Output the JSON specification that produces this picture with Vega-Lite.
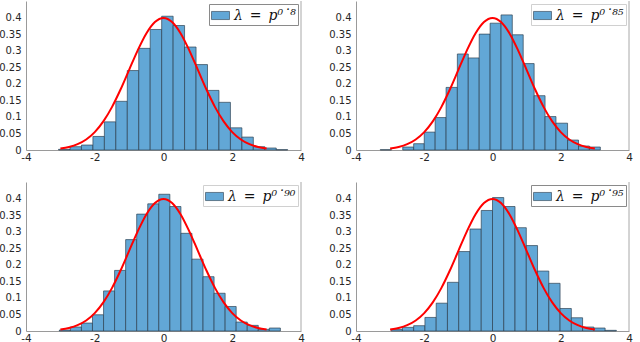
{
  "$schema": "https://vega.github.io/schema/vega-lite/v6.json",
  "padding": {"left": -2, "top": 0, "right": 0, "bottom": 0},
  "bounds": "flush",
  "columns": 2,
  "spacing": {"column": 55, "row": 32},
  "datasets": {
    "p1": [
      {"x0": -3.053, "x1": -2.72, "density": 0.002},
      {"x0": -2.72, "x1": -2.387, "density": 0.01},
      {"x0": -2.387, "x1": -2.053, "density": 0.015},
      {"x0": -2.053, "x1": -1.72, "density": 0.041},
      {"x0": -1.72, "x1": -1.387, "density": 0.085},
      {"x0": -1.387, "x1": -1.053, "density": 0.147},
      {"x0": -1.053, "x1": -0.72, "density": 0.24},
      {"x0": -0.72, "x1": -0.387, "density": 0.307},
      {"x0": -0.387, "x1": -0.053, "density": 0.364},
      {"x0": -0.053, "x1": 0.28, "density": 0.404},
      {"x0": 0.28, "x1": 0.613, "density": 0.376},
      {"x0": 0.613, "x1": 0.947, "density": 0.311},
      {"x0": 0.947, "x1": 1.28, "density": 0.258},
      {"x0": 1.28, "x1": 1.613, "density": 0.18},
      {"x0": 1.613, "x1": 1.947, "density": 0.144},
      {"x0": 1.947, "x1": 2.28, "density": 0.067},
      {"x0": 2.28, "x1": 2.613, "density": 0.039},
      {"x0": 2.613, "x1": 2.947, "density": 0.01},
      {"x0": 2.947, "x1": 3.28, "density": 0.006},
      {"x0": 3.28, "x1": 3.613, "density": 0.001}
    ],
    "p2": [
      {"x0": -3.29, "x1": -2.96, "density": 0.001},
      {"x0": -2.63, "x1": -2.31, "density": 0.009},
      {"x0": -2.31, "x1": -2.0, "density": 0.019},
      {"x0": -2.0, "x1": -1.68, "density": 0.054},
      {"x0": -1.68, "x1": -1.36, "density": 0.098},
      {"x0": -1.36, "x1": -1.03, "density": 0.189},
      {"x0": -1.03, "x1": -0.71, "density": 0.29},
      {"x0": -0.71, "x1": -0.39, "density": 0.278},
      {"x0": -0.39, "x1": -0.07, "density": 0.35},
      {"x0": -0.07, "x1": 0.25, "density": 0.383},
      {"x0": 0.25, "x1": 0.58, "density": 0.408},
      {"x0": 0.58, "x1": 0.9, "density": 0.348},
      {"x0": 0.9, "x1": 1.22, "density": 0.261},
      {"x0": 1.22, "x1": 1.54, "density": 0.164},
      {"x0": 1.54, "x1": 1.86, "density": 0.101},
      {"x0": 1.86, "x1": 2.2, "density": 0.081},
      {"x0": 2.2, "x1": 2.52, "density": 0.03},
      {"x0": 2.52, "x1": 2.84, "density": 0.012},
      {"x0": 2.84, "x1": 3.16, "density": 0.009}
    ],
    "p3": [
      {"x0": -3.03, "x1": -2.709, "density": 0.003},
      {"x0": -2.709, "x1": -2.387, "density": 0.012},
      {"x0": -2.387, "x1": -2.066, "density": 0.024},
      {"x0": -2.066, "x1": -1.744, "density": 0.049},
      {"x0": -1.744, "x1": -1.423, "density": 0.121},
      {"x0": -1.423, "x1": -1.101, "density": 0.183},
      {"x0": -1.101, "x1": -0.78, "density": 0.276},
      {"x0": -0.78, "x1": -0.458, "density": 0.353},
      {"x0": -0.458, "x1": -0.137, "density": 0.384},
      {"x0": -0.137, "x1": 0.185, "density": 0.413},
      {"x0": 0.185, "x1": 0.507, "density": 0.376},
      {"x0": 0.507, "x1": 0.828, "density": 0.295},
      {"x0": 0.828, "x1": 1.15, "density": 0.217},
      {"x0": 1.15, "x1": 1.471, "density": 0.164},
      {"x0": 1.471, "x1": 1.793, "density": 0.114},
      {"x0": 1.793, "x1": 2.114, "density": 0.074},
      {"x0": 2.114, "x1": 2.436, "density": 0.027},
      {"x0": 2.436, "x1": 2.757, "density": 0.017},
      {"x0": 2.757, "x1": 3.079, "density": 0.005},
      {"x0": 3.079, "x1": 3.4, "density": 0.009}
    ],
    "p4": [
      {"x0": -2.97, "x1": -2.64, "density": 0.005},
      {"x0": -2.64, "x1": -2.31, "density": 0.011},
      {"x0": -2.31, "x1": -1.98, "density": 0.016},
      {"x0": -1.98, "x1": -1.65, "density": 0.041},
      {"x0": -1.65, "x1": -1.32, "density": 0.084},
      {"x0": -1.32, "x1": -0.99, "density": 0.147},
      {"x0": -0.99, "x1": -0.66, "density": 0.24},
      {"x0": -0.66, "x1": -0.33, "density": 0.308},
      {"x0": -0.33, "x1": 0.0, "density": 0.364},
      {"x0": 0.0, "x1": 0.33, "density": 0.403},
      {"x0": 0.33, "x1": 0.66, "density": 0.376},
      {"x0": 0.66, "x1": 0.99, "density": 0.312},
      {"x0": 0.99, "x1": 1.32, "density": 0.258},
      {"x0": 1.32, "x1": 1.65, "density": 0.181},
      {"x0": 1.65, "x1": 1.98, "density": 0.144},
      {"x0": 1.98, "x1": 2.31, "density": 0.068},
      {"x0": 2.31, "x1": 2.64, "density": 0.04},
      {"x0": 2.64, "x1": 2.97, "density": 0.012},
      {"x0": 2.97, "x1": 3.3, "density": 0.009},
      {"x0": 3.3, "x1": 3.63, "density": 0.002}
    ],
    "curve": [
      {"x": -3.0, "y": 0.0044},
      {"x": -2.75, "y": 0.0091},
      {"x": -2.5, "y": 0.0175},
      {"x": -2.25, "y": 0.0317},
      {"x": -2.0, "y": 0.054},
      {"x": -1.75, "y": 0.0863},
      {"x": -1.5, "y": 0.1295},
      {"x": -1.25, "y": 0.1826},
      {"x": -1.0, "y": 0.242},
      {"x": -0.75, "y": 0.3011},
      {"x": -0.5, "y": 0.3521},
      {"x": -0.25, "y": 0.3867},
      {"x": 0.0, "y": 0.3989},
      {"x": 0.25, "y": 0.3867},
      {"x": 0.5, "y": 0.3521},
      {"x": 0.75, "y": 0.3011},
      {"x": 1.0, "y": 0.242},
      {"x": 1.25, "y": 0.1826},
      {"x": 1.5, "y": 0.1295},
      {"x": 1.75, "y": 0.0863},
      {"x": 2.0, "y": 0.054},
      {"x": 2.25, "y": 0.0317},
      {"x": 2.5, "y": 0.0175},
      {"x": 2.75, "y": 0.0091},
      {"x": 3.0, "y": 0.0044}
    ]
  },
  "concat": [
    {
      "width": 275, "height": 149,
      "layer": [
        {"data": {"name": "p1"},
         "mark": {"type": "rect", "stroke": "#2b3e4e", "strokeWidth": 0.8, "strokeOpacity": 0.85},
         "encoding": {
           "x": {"field": "x0", "type": "quantitative", "title": null, "scale": {"domain": [-4, 4], "nice": false, "zero": false}, "axis": {"values": [-4, -2, 0, 2, 4], "labelExpr": "datum.value < 0 ? '-' + abs(datum.value) : '' + datum.value"}},
           "x2": {"field": "x1"},
           "y": {"field": "density", "type": "quantitative", "title": null, "scale": {"domain": [0, 0.45], "nice": false}, "axis": {"values": [0, 0.05, 0.1, 0.15, 0.2, 0.25, 0.3, 0.35, 0.4], "format": "~g"}},
           "y2": {"datum": 0},
           "color": {"datum": "λ\u2002=\u2002p⁰˙⁸", "type": "nominal", "scale": {"range": ["#62a7d6"]}, "legend": {"strokeColor": "#8a8a8a"}}
         }},
        {"data": {"name": "curve"},
         "mark": {"type": "line", "color": "#ff0000", "strokeWidth": 2, "interpolate": "monotone"},
         "encoding": {
           "x": {"field": "x", "type": "quantitative", "title": null, "axis": {"values": [-4, -2, 0, 2, 4], "labelExpr": "datum.value < 0 ? '-' + abs(datum.value) : '' + datum.value"}},
           "y": {"field": "y", "type": "quantitative", "title": null, "axis": {"values": [0, 0.05, 0.1, 0.15, 0.2, 0.25, 0.3, 0.35, 0.4], "format": "~g"}}}},
        {"data": {"values": [{}]},
         "mark": {"type": "rule", "color": "#a8a8a8", "strokeWidth": 1},
         "encoding": {"x": {"datum": 4}}}
      ]
    },
    {
      "width": 273, "height": 149,
      "layer": [
        {"data": {"name": "p2"},
         "mark": {"type": "rect", "stroke": "#2b3e4e", "strokeWidth": 0.8, "strokeOpacity": 0.85},
         "encoding": {
           "x": {"field": "x0", "type": "quantitative", "title": null, "scale": {"domain": [-4, 4], "nice": false, "zero": false}, "axis": {"values": [-4, -2, 0, 2, 4], "labelExpr": "datum.value < 0 ? '-' + abs(datum.value) : '' + datum.value"}},
           "x2": {"field": "x1"},
           "y": {"field": "density", "type": "quantitative", "title": null, "scale": {"domain": [0, 0.45], "nice": false}, "axis": {"values": [0, 0.05, 0.1, 0.15, 0.2, 0.25, 0.3, 0.35, 0.4], "format": "~g"}},
           "y2": {"datum": 0},
           "color": {"datum": "λ\u2002=\u2002p⁰˙⁸⁵", "type": "nominal", "scale": {"range": ["#62a7d6"]}, "legend": {"strokeColor": "#d0d0d0"}}
         }},
        {"data": {"name": "curve"},
         "mark": {"type": "line", "color": "#ff0000", "strokeWidth": 2, "interpolate": "monotone"},
         "encoding": {
           "x": {"field": "x", "type": "quantitative", "title": null, "axis": {"values": [-4, -2, 0, 2, 4], "labelExpr": "datum.value < 0 ? '-' + abs(datum.value) : '' + datum.value"}},
           "y": {"field": "y", "type": "quantitative", "title": null, "axis": {"values": [0, 0.05, 0.1, 0.15, 0.2, 0.25, 0.3, 0.35, 0.4], "format": "~g"}}}},
        {"data": {"values": [{}]},
         "mark": {"type": "rule", "color": "#a8a8a8", "strokeWidth": 1},
         "encoding": {"x": {"datum": 4}}}
      ]
    },
    {
      "width": 275, "height": 149,
      "layer": [
        {"data": {"name": "p3"},
         "mark": {"type": "rect", "stroke": "#2b3e4e", "strokeWidth": 0.8, "strokeOpacity": 0.85},
         "encoding": {
           "x": {"field": "x0", "type": "quantitative", "title": null, "scale": {"domain": [-4, 4], "nice": false, "zero": false}, "axis": {"values": [-4, -2, 0, 2, 4], "labelExpr": "datum.value < 0 ? '-' + abs(datum.value) : '' + datum.value"}},
           "x2": {"field": "x1"},
           "y": {"field": "density", "type": "quantitative", "title": null, "scale": {"domain": [0, 0.45], "nice": false}, "axis": {"values": [0, 0.05, 0.1, 0.15, 0.2, 0.25, 0.3, 0.35, 0.4], "format": "~g"}},
           "y2": {"datum": 0},
           "color": {"datum": "λ\u2002=\u2002p⁰˙⁹⁰", "type": "nominal", "scale": {"range": ["#62a7d6"]}, "legend": {"strokeColor": "#d0d0d0"}}
         }},
        {"data": {"name": "curve"},
         "mark": {"type": "line", "color": "#ff0000", "strokeWidth": 2, "interpolate": "monotone"},
         "encoding": {
           "x": {"field": "x", "type": "quantitative", "title": null, "axis": {"values": [-4, -2, 0, 2, 4], "labelExpr": "datum.value < 0 ? '-' + abs(datum.value) : '' + datum.value"}},
           "y": {"field": "y", "type": "quantitative", "title": null, "axis": {"values": [0, 0.05, 0.1, 0.15, 0.2, 0.25, 0.3, 0.35, 0.4], "format": "~g"}}}},
        {"data": {"values": [{}]},
         "mark": {"type": "rule", "color": "#a8a8a8", "strokeWidth": 1},
         "encoding": {"x": {"datum": 4}}}
      ]
    },
    {
      "width": 273, "height": 149,
      "layer": [
        {"data": {"name": "p4"},
         "mark": {"type": "rect", "stroke": "#2b3e4e", "strokeWidth": 0.8, "strokeOpacity": 0.85},
         "encoding": {
           "x": {"field": "x0", "type": "quantitative", "title": null, "scale": {"domain": [-4, 4], "nice": false, "zero": false}, "axis": {"values": [-4, -2, 0, 2, 4], "labelExpr": "datum.value < 0 ? '-' + abs(datum.value) : '' + datum.value"}},
           "x2": {"field": "x1"},
           "y": {"field": "density", "type": "quantitative", "title": null, "scale": {"domain": [0, 0.45], "nice": false}, "axis": {"values": [0, 0.05, 0.1, 0.15, 0.2, 0.25, 0.3, 0.35, 0.4], "format": "~g"}},
           "y2": {"datum": 0},
           "color": {"datum": "λ\u2002=\u2002p⁰˙⁹⁵", "type": "nominal", "scale": {"range": ["#62a7d6"]}, "legend": {"strokeColor": "#8a8a8a"}}
         }},
        {"data": {"name": "curve"},
         "mark": {"type": "line", "color": "#ff0000", "strokeWidth": 2, "interpolate": "monotone"},
         "encoding": {
           "x": {"field": "x", "type": "quantitative", "title": null, "axis": {"values": [-4, -2, 0, 2, 4], "labelExpr": "datum.value < 0 ? '-' + abs(datum.value) : '' + datum.value"}},
           "y": {"field": "y", "type": "quantitative", "title": null, "axis": {"values": [0, 0.05, 0.1, 0.15, 0.2, 0.25, 0.3, 0.35, 0.4], "format": "~g"}}}},
        {"data": {"values": [{}]},
         "mark": {"type": "rule", "color": "#a8a8a8", "strokeWidth": 1},
         "encoding": {"x": {"datum": 4}}}
      ]
    }
  ],
  "resolve": {"scale": {"color": "independent", "x": "independent", "y": "independent"}, "legend": {"color": "independent"}},
  "config": {
    "view": {"stroke": null},
    "axis": {"grid": false, "ticks": false, "domainColor": "#9a9a9a", "domainWidth": 1, "labelFont": "DejaVu Sans", "labelFontSize": 10.5, "labelColor": "#262626", "labelFlush": false, "labelOverlap": false},
    "axisY": {"labelPadding": 5, "labelFontSize": 10},
    "axisX": {"labelPadding": 2},
    "legend": {
      "orient": "top-right", "offset": 3, "title": null, "fillColor": "white", "padding": 2,
      "symbolType": "M-1,-0.45H1V0.45H-1Z", "symbolSize": 324, "symbolStrokeColor": "#2b3e4e", "symbolStrokeWidth": 0.6, "symbolOpacity": 1,
      "labelFont": "DejaVu Serif", "labelFontSize": 14, "labelFontStyle": "italic", "labelColor": "#111111", "labelOffset": 4, "labelLimit": 200
    }
  }
}
